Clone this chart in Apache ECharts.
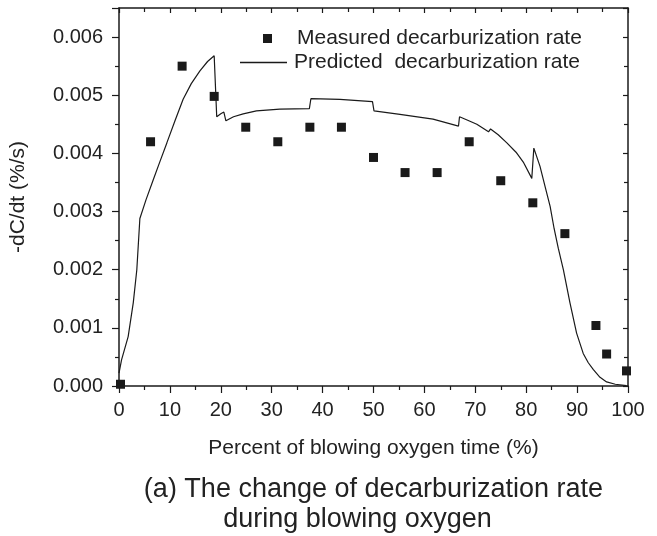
<!DOCTYPE html>
<html lang="en">
<head>
<meta charset="UTF-8">
<title>Decarburization rate</title>
<script src="https://cdn.jsdelivr.net/npm/echarts@6/dist/echarts.min.js"></script>
<style type="text/css">
body{margin:0; padding:0; background:#fff;}
#main{width:657px;height:536px;}
</style>
</head>
<body>
<div id="main"></div>
<script type="text/javascript">
// measured points (x in %, y in %/s)
var measX = [0.3, 6.2, 12.4, 18.7, 24.9, 31.2, 37.5, 43.7, 50.0, 56.2, 62.5, 68.8, 75.0, 81.3, 87.6, 93.7, 95.8, 99.7];
var measY = [0.00003, 0.0042, 0.0055, 0.00498, 0.00445, 0.0042, 0.00445, 0.00445, 0.00393, 0.00367, 0.00367, 0.0042, 0.00353, 0.00315, 0.00262, 0.00104, 0.00055, 0.00026];

// predicted curve (y in 0.001 %/s)
var predX = [0, 0.5, 1.8, 2.8, 3.5, 4.1, 5.3, 6.75, 8.0, 9.4, 11.0, 12.6, 14.2, 15.9, 17.4, 18.7,
             19.2, 20.0, 20.6, 21.0, 22.5, 24.4, 27.0, 31.6, 37.4, 37.7, 43.4, 49.8, 50.1, 55.2, 61.7,
             66.7, 66.9, 68.5, 70.3, 72.6, 73.0, 74.5, 76.2, 78.0, 79.5, 81.1, 81.5, 82.7, 83.8, 84.7,
             85.5, 86.3, 87.3, 88.6, 89.9, 91.2, 92.2, 93.2, 94.5, 95.8, 97.5, 99.7];
var predY = [0.22, 0.45, 0.85, 1.43, 2.0, 2.88, 3.2, 3.55, 3.85, 4.18, 4.56, 4.93, 5.2, 5.42, 5.58, 5.68,
             4.63, 4.68, 4.71, 4.56, 4.63, 4.68, 4.73, 4.76, 4.77, 4.94, 4.93, 4.89, 4.73, 4.67, 4.59,
             4.47, 4.63, 4.57, 4.50, 4.37, 4.42, 4.32, 4.18, 4.02, 3.84, 3.57, 4.09, 3.78, 3.40, 3.09,
             2.70, 2.37, 2.0, 1.43, 0.91, 0.56, 0.40, 0.28, 0.15, 0.07, 0.03, 0.005];

var measName = 'Measured decarburization rate';
var predName = 'Predicted  decarburization rate';
var xName = 'Percent of blowing oxygen time (%)';
var yName = '-dC/dt (%/s)';
var caption1 = '(a) The change of decarburization rate';
var caption2 = 'during blowing oxygen';

var measData = [];
for (var i = 0; i < measX.length; i++) measData.push([measX[i], measY[i]]);
var predData = [];
for (var j = 0; j < predX.length; j++) predData.push([predX[j], predY[j] / 1000]);

var font = 'Liberation Sans, Arial, sans-serif';
var ink = '#1a1a1a';

var myChart = echarts.init(document.getElementById('main'), null, {renderer: 'canvas'});

var option = {
    animation: false,
    backgroundColor: '#fff',
    grid: {left: 119, right: 29, top: 8, bottom: 150},
    legend: [
        {
            left: 263, top: 28, padding: 0,
            icon: 'rect',
            itemWidth: 9, itemHeight: 9,
            data: [measName],
            textStyle: {fontFamily: font, fontSize: 21, color: '#222', padding: [0, 0, 0, 20]}
        },
        {
            left: 240, top: 52, padding: 0,
            icon: 'rect',
            itemWidth: 47, itemHeight: 1.3,
            data: [predName],
            textStyle: {fontFamily: font, fontSize: 21, color: '#222', padding: [0, 0, 0, 2]}
        }
    ],
    xAxis: [
        {
            type: 'value', min: 0, max: 100, interval: 10,
            name: xName, nameLocation: 'middle', nameGap: 52,
            nameTextStyle: {fontFamily: font, fontSize: 21, color: '#222'},
            axisLine: {onZero: false, lineStyle: {color: ink, width: 1.5}},
            axisTick: {show: true, inside: false, length: 7, lineStyle: {color: ink, width: 1.2}},
            minorTick: {show: true, splitNumber: 2, length: 4, lineStyle: {color: ink, width: 1.2}},
            axisLabel: {margin: 14, fontFamily: font, fontSize: 20, color: '#222'},
            splitLine: {show: false}
        },
        {
            type: 'value', min: 0, max: 100, interval: 10, position: 'top',
            axisLine: {onZero: false, lineStyle: {color: ink, width: 1.5}},
            axisTick: {show: true, inside: true, length: 5, lineStyle: {color: ink, width: 1.2}},
            minorTick: {show: true, splitNumber: 2, length: 4, lineStyle: {color: ink, width: 1.2}},
            axisLabel: {show: false},
            splitLine: {show: false}
        }
    ],
    yAxis: [
        {
            type: 'value', min: 0, max: 0.0065, interval: 0.001,
            name: yName, nameLocation: 'middle', nameGap: 90,
            nameTextStyle: {fontFamily: font, fontSize: 21, color: '#222'},
            axisLine: {show: true, onZero: false, lineStyle: {color: ink, width: 1.5}},
            axisTick: {show: true, inside: false, length: 7, lineStyle: {color: ink, width: 1.2}},
            minorTick: {show: true, splitNumber: 2, length: 4, lineStyle: {color: ink, width: 1.2}},
            axisLabel: {
                margin: 16, fontFamily: font, fontSize: 20, color: '#222',
                formatter: function (v) { return v > 0.0061 ? '' : v.toFixed(3); }
            },
            splitLine: {show: false}
        },
        {
            type: 'value', min: 0, max: 0.0065, interval: 0.001, position: 'right',
            axisLine: {show: true, onZero: false, lineStyle: {color: ink, width: 1.5}},
            axisTick: {show: true, inside: true, length: 5, lineStyle: {color: ink, width: 1.2}},
            minorTick: {show: true, splitNumber: 2, length: 4, lineStyle: {color: ink, width: 1.2}},
            axisLabel: {show: false},
            splitLine: {show: false}
        }
    ],
    graphic: [
        {
            type: 'text', x: 373.5, y: 490,
            style: {text: caption1, textAlign: 'center', textVerticalAlign: 'middle',
                    font: '27px ' + font, fill: '#222'}
        },
        {
            type: 'text', x: 357.5, y: 520,
            style: {text: caption2, textAlign: 'center', textVerticalAlign: 'middle',
                    font: '27px ' + font, fill: '#222'}
        }
    ],
    series: [
        {
            name: predName,
            type: 'line',
            xAxisIndex: 0, yAxisIndex: 0,
            symbol: 'none',
            smooth: false,
            lineStyle: {color: ink, width: 1.2},
            itemStyle: {color: ink},
            data: predData,
            z: 2
        },
        {
            name: measName,
            type: 'scatter',
            xAxisIndex: 0, yAxisIndex: 0,
            symbol: 'rect',
            symbolSize: 9,
            itemStyle: {color: ink, opacity: 1},
            data: measData,
            z: 3
        }
    ]
};
myChart.setOption(option);
</script>
</body>
</html>
